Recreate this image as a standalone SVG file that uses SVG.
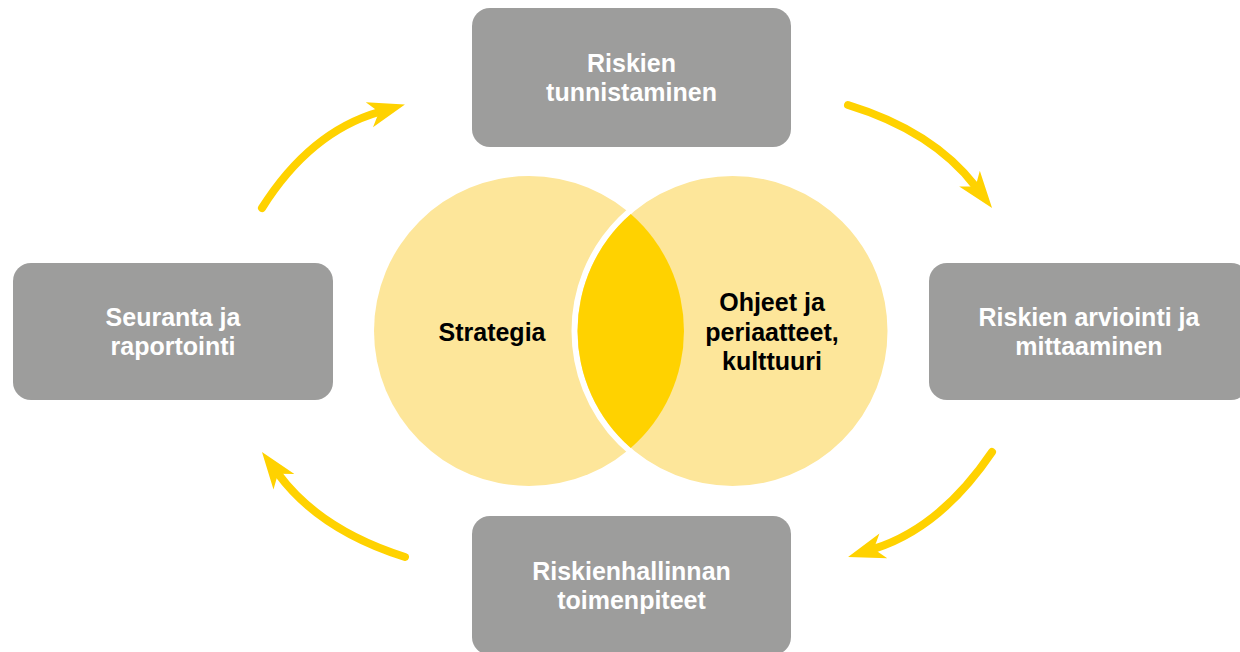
<svg xmlns="http://www.w3.org/2000/svg" width="1240" height="652" viewBox="0 0 1240 652">
  <style>
    .box { fill: #9d9d9c; }
    .boxtext { font-family: "Liberation Sans", Arial, sans-serif; font-weight: bold; font-size: 25px; fill: #ffffff; text-anchor: middle; }
    .venntext { font-family: "Liberation Sans", Arial, sans-serif; font-weight: bold; font-size: 25px; fill: #000000; text-anchor: middle; }
    .arrow { fill: none; stroke: #ffd200; stroke-width: 8; stroke-linecap: round; marker-end: url(#head); }
  </style>
  <defs>
    <marker id="head" viewBox="-15 -20 50 40" markerWidth="50" markerHeight="40" refX="0" refY="0" orient="auto" markerUnits="userSpaceOnUse">
      <path d="M27,0 L-10,-13 L0,0 L-10,13 Z" fill="#ffd200"/>
    </marker>
  </defs>
  <rect width="1240" height="652" fill="#ffffff"/>

  <g id="venn">
    <circle cx="529" cy="331" r="155" fill="#fde69a"/>
    <circle cx="732.5" cy="331" r="158" fill="#fde69a" stroke="#ffffff" stroke-width="6"/>
    <path d="M630.75,214.1 A155,155 0 0,1 630.75,447.9 A155,155 0 0,1 630.75,214.1 Z" fill="#ffd200"/>
    <text class="venntext" x="492" y="341">Strategia</text>
    <text class="venntext" x="772" y="311">Ohjeet ja</text>
    <text class="venntext" x="772" y="341">periaatteet,</text>
    <text class="venntext" x="772" y="370">kulttuuri</text>
  </g>

  <g id="node-tunnistaminen">
    <rect class="box" x="472" y="8" width="319" height="139" rx="18"/>
    <text class="boxtext" x="631.5" y="72">Riskien</text>
    <text class="boxtext" x="631.5" y="100.5">tunnistaminen</text>
  </g>
  <g id="node-arviointi">
    <rect class="box" x="929" y="263" width="320" height="137" rx="18"/>
    <text class="boxtext" x="1089" y="326">Riskien arviointi ja</text>
    <text class="boxtext" x="1089" y="354.5">mittaaminen</text>
  </g>
  <g id="node-toimenpiteet">
    <rect class="box" x="472" y="516" width="319" height="139" rx="18"/>
    <text class="boxtext" x="631.5" y="580">Riskienhallinnan</text>
    <text class="boxtext" x="631.5" y="608.5">toimenpiteet</text>
  </g>
  <g id="node-seuranta">
    <rect class="box" x="13" y="263" width="320" height="137" rx="18"/>
    <text class="boxtext" x="173" y="326">Seuranta ja</text>
    <text class="boxtext" x="173" y="354.5">raportointi</text>
  </g>

  <g id="connectors">
    <path class="arrow" d="M262,208 Q310,132 379,112"/>
    <path class="arrow" d="M848,105 Q933,131 975.6,186.5"/>
    <path class="arrow" d="M992,452 Q940.6,527.9 873.8,548.9"/>
    <path class="arrow" d="M405,557 Q319.5,530 278,473.7"/>
  </g>
</svg>
